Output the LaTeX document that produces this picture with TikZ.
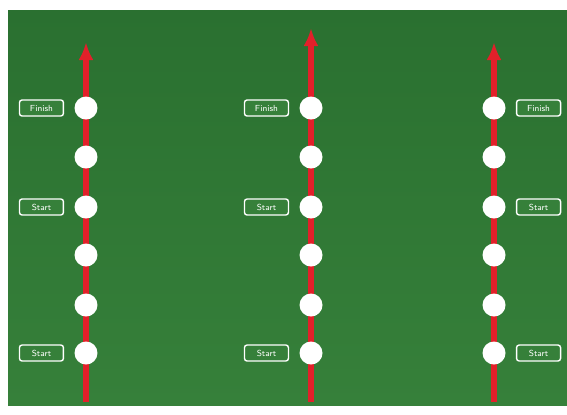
\documentclass[tikz,border=0pt]{standalone}
\usetikzlibrary{arrows.meta, positioning}
\definecolor{grass}{RGB}{54,128,58}
\definecolor{grassdark}{RGB}{42,112,48}
\definecolor{lanered}{RGB}{226,32,42}

\begin{document}
\begin{tikzpicture}[
    x=0.02cm, y=-0.02cm,
    >=Latex,
    spot/.style={circle, fill=white, minimum size=0.46cm, inner sep=0pt},
    tag/.style={draw=white, line width=0.8pt, rounded corners=1.5pt, fill=grass, text=white, font=\tiny\sffamily, minimum width=0.88cm, minimum height=0.32cm, inner sep=1pt},
    lane/.style={draw=lanered, line width=0.11cm, -{Latex[length=0.36cm, width=0.3cm]}}
]

    % Rasen
    \useasboundingbox (0,0) rectangle (567,414);
    \fill[white] (0,0) rectangle (567,414);
    \shade[top color=grassdark, bottom color=grass] (8,10) rectangle (567,405);

    % Bahnen mit Punkten
    \foreach \col/\x/\tip in {a/86/42, b/311/28, c/494/42} {
        \coordinate (\col bot) at (\x,402);
        \coordinate (\col top) at (\x,\tip);
        \draw[lane] (\col bot) -- (\col top);
        \foreach \i/\y in {1/108, 2/157, 3/207, 4/255, 5/305, 6/353}
            \node[spot] (\col\i) at (\x,\y) {};
    }

    % Beschriftungen
    \foreach \col in {a,b} {
        \node[tag, left=0.2cm of \col1] {Finish};
        \node[tag, left=0.2cm of \col3] {Start};
        \node[tag, left=0.2cm of \col6] {Start};
    }
    \node[tag, right=0.2cm of c1] {Finish};
    \node[tag, right=0.2cm of c3] {Start};
    \node[tag, right=0.2cm of c6] {Start};

\end{tikzpicture}
\end{document}
